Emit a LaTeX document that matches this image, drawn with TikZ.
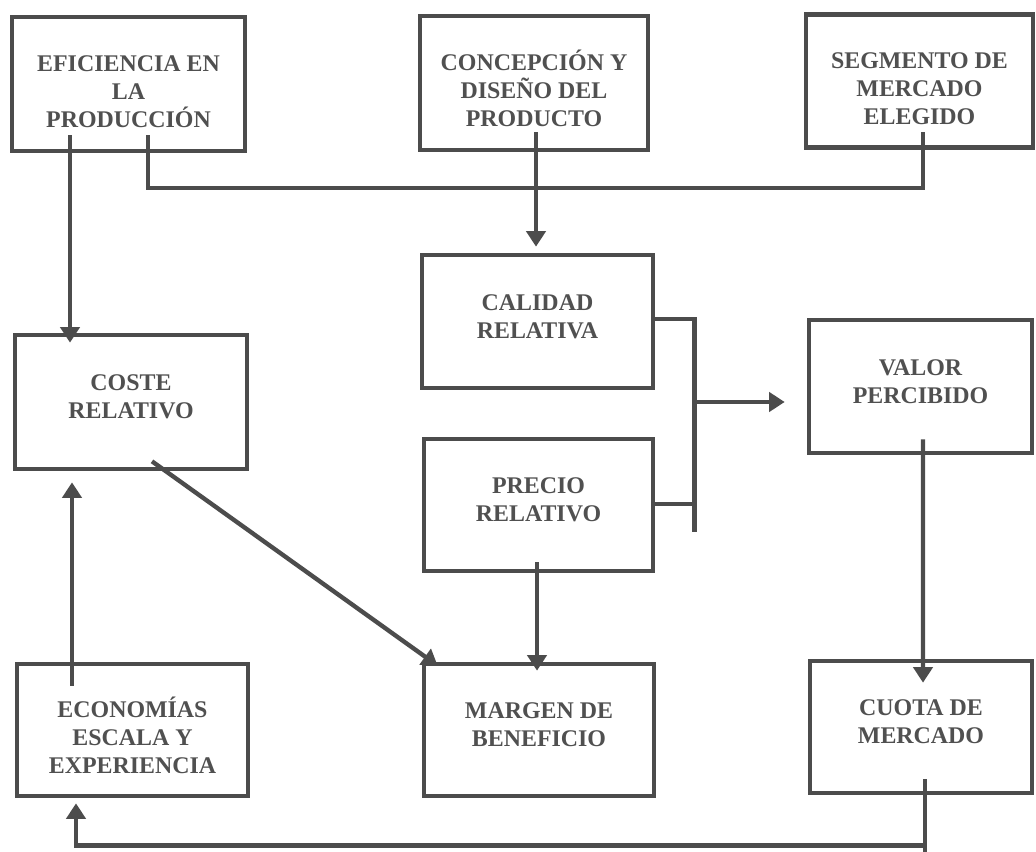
\documentclass[tikz,border=0pt]{standalone}
\usepackage{fontspec}
\setmainfont{Liberation Serif}
\usetikzlibrary{arrows.meta,calc}
\definecolor{ink}{RGB}{76,76,76}
\definecolor{txt}{RGB}{80,80,80}
\newcommand\pxu{0.025cm}
\newcommand\upT{\rule[-7.5pt]{0pt}{0pt}}
\newcommand\dnT{\rule{0pt}{22pt}}
\begin{document}
\begin{tikzpicture}[x=0.025cm, y=-0.025cm,
  box/.style={draw=ink, line width=3.3pt, rectangle, inner sep=0pt,
    text=txt, font=\fontsize{17}{20}\selectfont\bfseries, align=center},
  conn/.style={draw=ink, line width=3.1pt},
  arr/.style={conn, -{Triangle[width=13.5pt,length=11pt]}}]
\useasboundingbox (0,0) rectangle (1036,852);

% boxes
\node[box, minimum width=233*\pxu, minimum height=134*\pxu] (efi) at (128.5,84)
  {\dnT EFICIENCIA EN\\LA\\PRODUCCIÓN};
\node[box, minimum width=228*\pxu, minimum height=134*\pxu] (conc) at (534,83)
  {\dnT CONCEPCIÓN Y\\DISEÑO DEL\\PRODUCTO};
\node[box, minimum width=227*\pxu, minimum height=133*\pxu] (segm) at (919.5,81)
  {\dnT SEGMENTO DE\\MERCADO\\ELEGIDO};
\node[box, minimum width=231*\pxu, minimum height=133*\pxu] (cal) at (537.5,321.5)
  {CALIDAD\\RELATIVA\upT};
\node[box, minimum width=232*\pxu, minimum height=134*\pxu] (coste) at (131,402)
  {COSTE\\RELATIVO\upT};
\node[box, minimum width=223*\pxu, minimum height=133*\pxu] (valor) at (920.5,386.5)
  {VALOR\\PERCIBIDO\upT};
\node[box, minimum width=229*\pxu, minimum height=132*\pxu] (prec) at (538.5,505)
  {PRECIO\\RELATIVO\upT};
\node[box, minimum width=231*\pxu, minimum height=132*\pxu] (econ) at (132.5,730)
  {\dnT ECONOMÍAS\\ESCALA Y\\EXPERIENCIA};
\node[box, minimum width=230*\pxu, minimum height=132*\pxu] (marg) at (539,730)
  {MARGEN DE\\BENEFICIO\upT};
\node[box, minimum width=222*\pxu, minimum height=132*\pxu] (cuota) at (921,727)
  {CUOTA DE\\MERCADO\upT};

% connectors
\draw[arr] ($(efi.south)+(-58.5,-18)$) -- ($(coste.north)+(-61,10)$);
\draw[conn] ($(efi.south)+(19.5,-18)$) |- ($(segm.south)+(3.5,38.5)$) -- ($(segm.south)+(3.5,-17.5)$);
\draw[arr] ($(conc.south)+(2,-20)$) -- ($(cal.north)+(-1.5,-6)$);
\draw[conn] ($(cal.east)+(0,-2.5)$) -- ++(39,0) -- ++(0,213);
\draw[conn] ($(prec.east)+(0,-1)$) -- ++(39,0);
\draw[arr] ($(cal.east)+(39,80.5)$) -- ($(valor.west)+(-22,15.5)$);
\draw[arr] ($(coste.south)+(21,-10)$) -- ($(marg.north west)+(16,4)$);
\draw[arr] ($(prec.south)+(-1.5,-11)$) -- ($(marg.north)+(-2,9)$);
\draw[arr] ($(valor.south)+(2.5,-16)$) -- ($(cuota.north)+(2,24)$);
\draw[conn] ($(cuota.south)+(4,-16)$) -- ++(0,80);
\draw[arr] ($(cuota.south)+(4,50)$) -| ($(econ.south)+(-56.5,5)$);
\draw[arr] ($(econ.north)+(-60.5,24)$) -- ($(coste.south)+(-59,11)$);
\end{tikzpicture}
\end{document}
